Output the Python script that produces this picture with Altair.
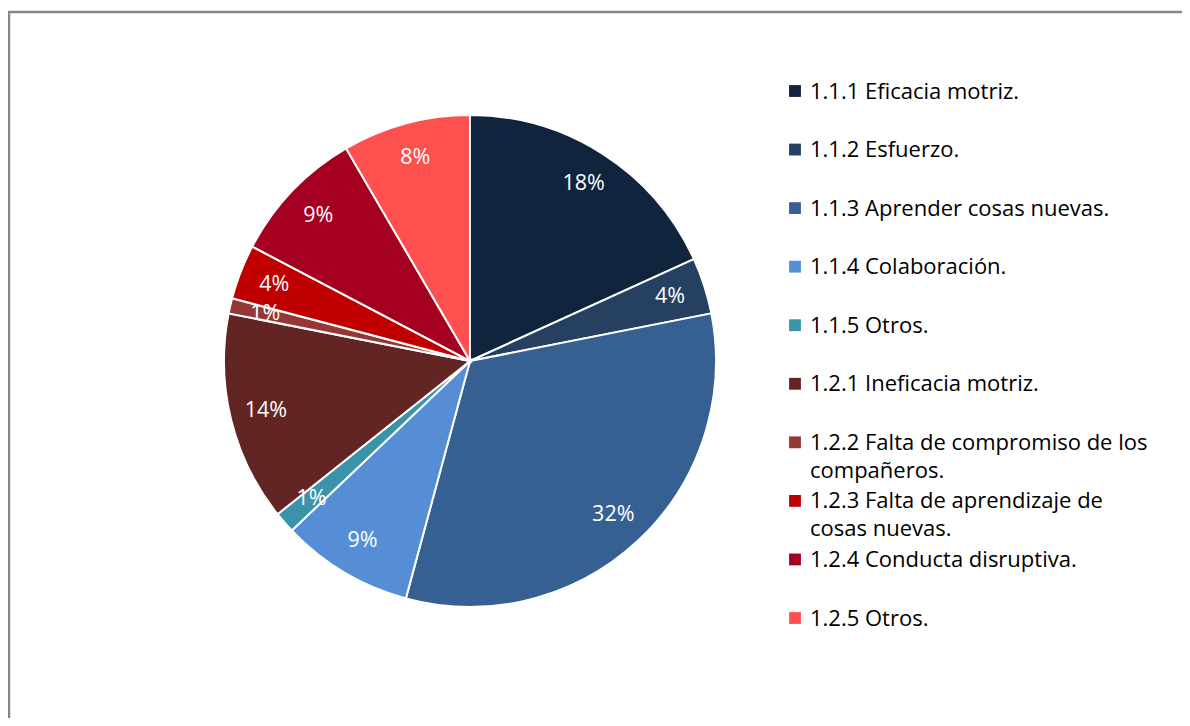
import altair as alt
import pandas as pd

categories = [
    "1.1.1 Eficacia motriz.",
    "1.1.2 Esfuerzo.",
    "1.1.3 Aprender cosas nuevas.",
    "1.1.4 Colaboración.",
    "1.1.5 Otros.",
    "1.2.1 Ineficacia motriz.",
    "1.2.2 Falta de compromiso de los compañeros.",
    "1.2.3 Falta de aprendizaje de cosas nuevas.",
    "1.2.4 Conducta disruptiva.",
    "1.2.5 Otros.",
]
legend_text = [
    "1.1.1 Eficacia motriz.",
    "1.1.2 Esfuerzo.",
    "1.1.3 Aprender cosas nuevas.",
    "1.1.4 Colaboración.",
    "1.1.5 Otros.",
    "1.2.1 Ineficacia motriz.",
    "1.2.2 Falta de compromiso de los\ncompañeros.",
    "1.2.3 Falta de aprendizaje de\ncosas nuevas.",
    "1.2.4 Conducta disruptiva.",
    "1.2.5 Otros.",
]
shares = [18.2, 3.7, 32.3, 8.7, 1.4, 13.8, 1.0, 3.6, 8.9, 8.4]
colors = ["#10243E", "#254061", "#376092", "#558ED5", "#3A93A8",
          "#632523", "#953735", "#C00000", "#A50021", "#FF5050"]

df = pd.DataFrame({
    "cat": categories,
    "legend": legend_text,
    "share": shares,
    "idx": list(range(len(categories))),
})
df["pct"] = (df["share"] / df["share"].sum() * 100).round().astype(int).astype(str) + "%"

FONT = "Open Sans"
CX, CY, R = 462, 353, 246

color = alt.Color("cat:N", scale=alt.Scale(domain=categories, range=colors), legend=None)
base = alt.Chart(df)

pie = base.mark_arc(outerRadius=R, stroke="white", strokeWidth=2).encode(
    theta=alt.Theta("share:Q", stack=True),
    order=alt.Order("idx:Q"),
    color=color,
    x=alt.value(CX), y=alt.value(CY),
)

labels = base.mark_text(radius=210, font=FONT, fontSize=21.5, color="white").encode(
    theta=alt.Theta("share:Q", stack=True),
    order=alt.Order("idx:Q"),
    text="pct:N",
    x=alt.value(CX), y=alt.value(CY),
)

yleg = alt.Y("idx:Q", scale=alt.Scale(domain=[0, 9], range=[83, 610]), axis=None)

leg_sq = base.mark_point(shape="square", filled=True, size=140, opacity=1).encode(
    x=alt.value(787), y=yleg, color=color,
)
leg_txt = base.mark_text(align="left", baseline="alphabetic", dy=7.5, font=FONT,
                         fontSize=22, color="#000000", lineBreak="\n",
                         lineHeight=28).encode(
    x=alt.value(802), y=yleg, text="legend:N",
)

border = alt.Chart(pd.DataFrame({"a": [0]})).mark_rect(
    fill=None, stroke="#878787", strokeWidth=2.5
).encode(x=alt.value(1), x2=alt.value(1300), y=alt.value(4), y2=alt.value(900))

chart = alt.layer(border, pie, labels, leg_sq, leg_txt).properties(
    width=1174, height=710, padding=0, autosize="none", background="white"
).configure_view(stroke=None)

chart.save("out.html", embed_options={"renderer": "svg", "actions": False})
